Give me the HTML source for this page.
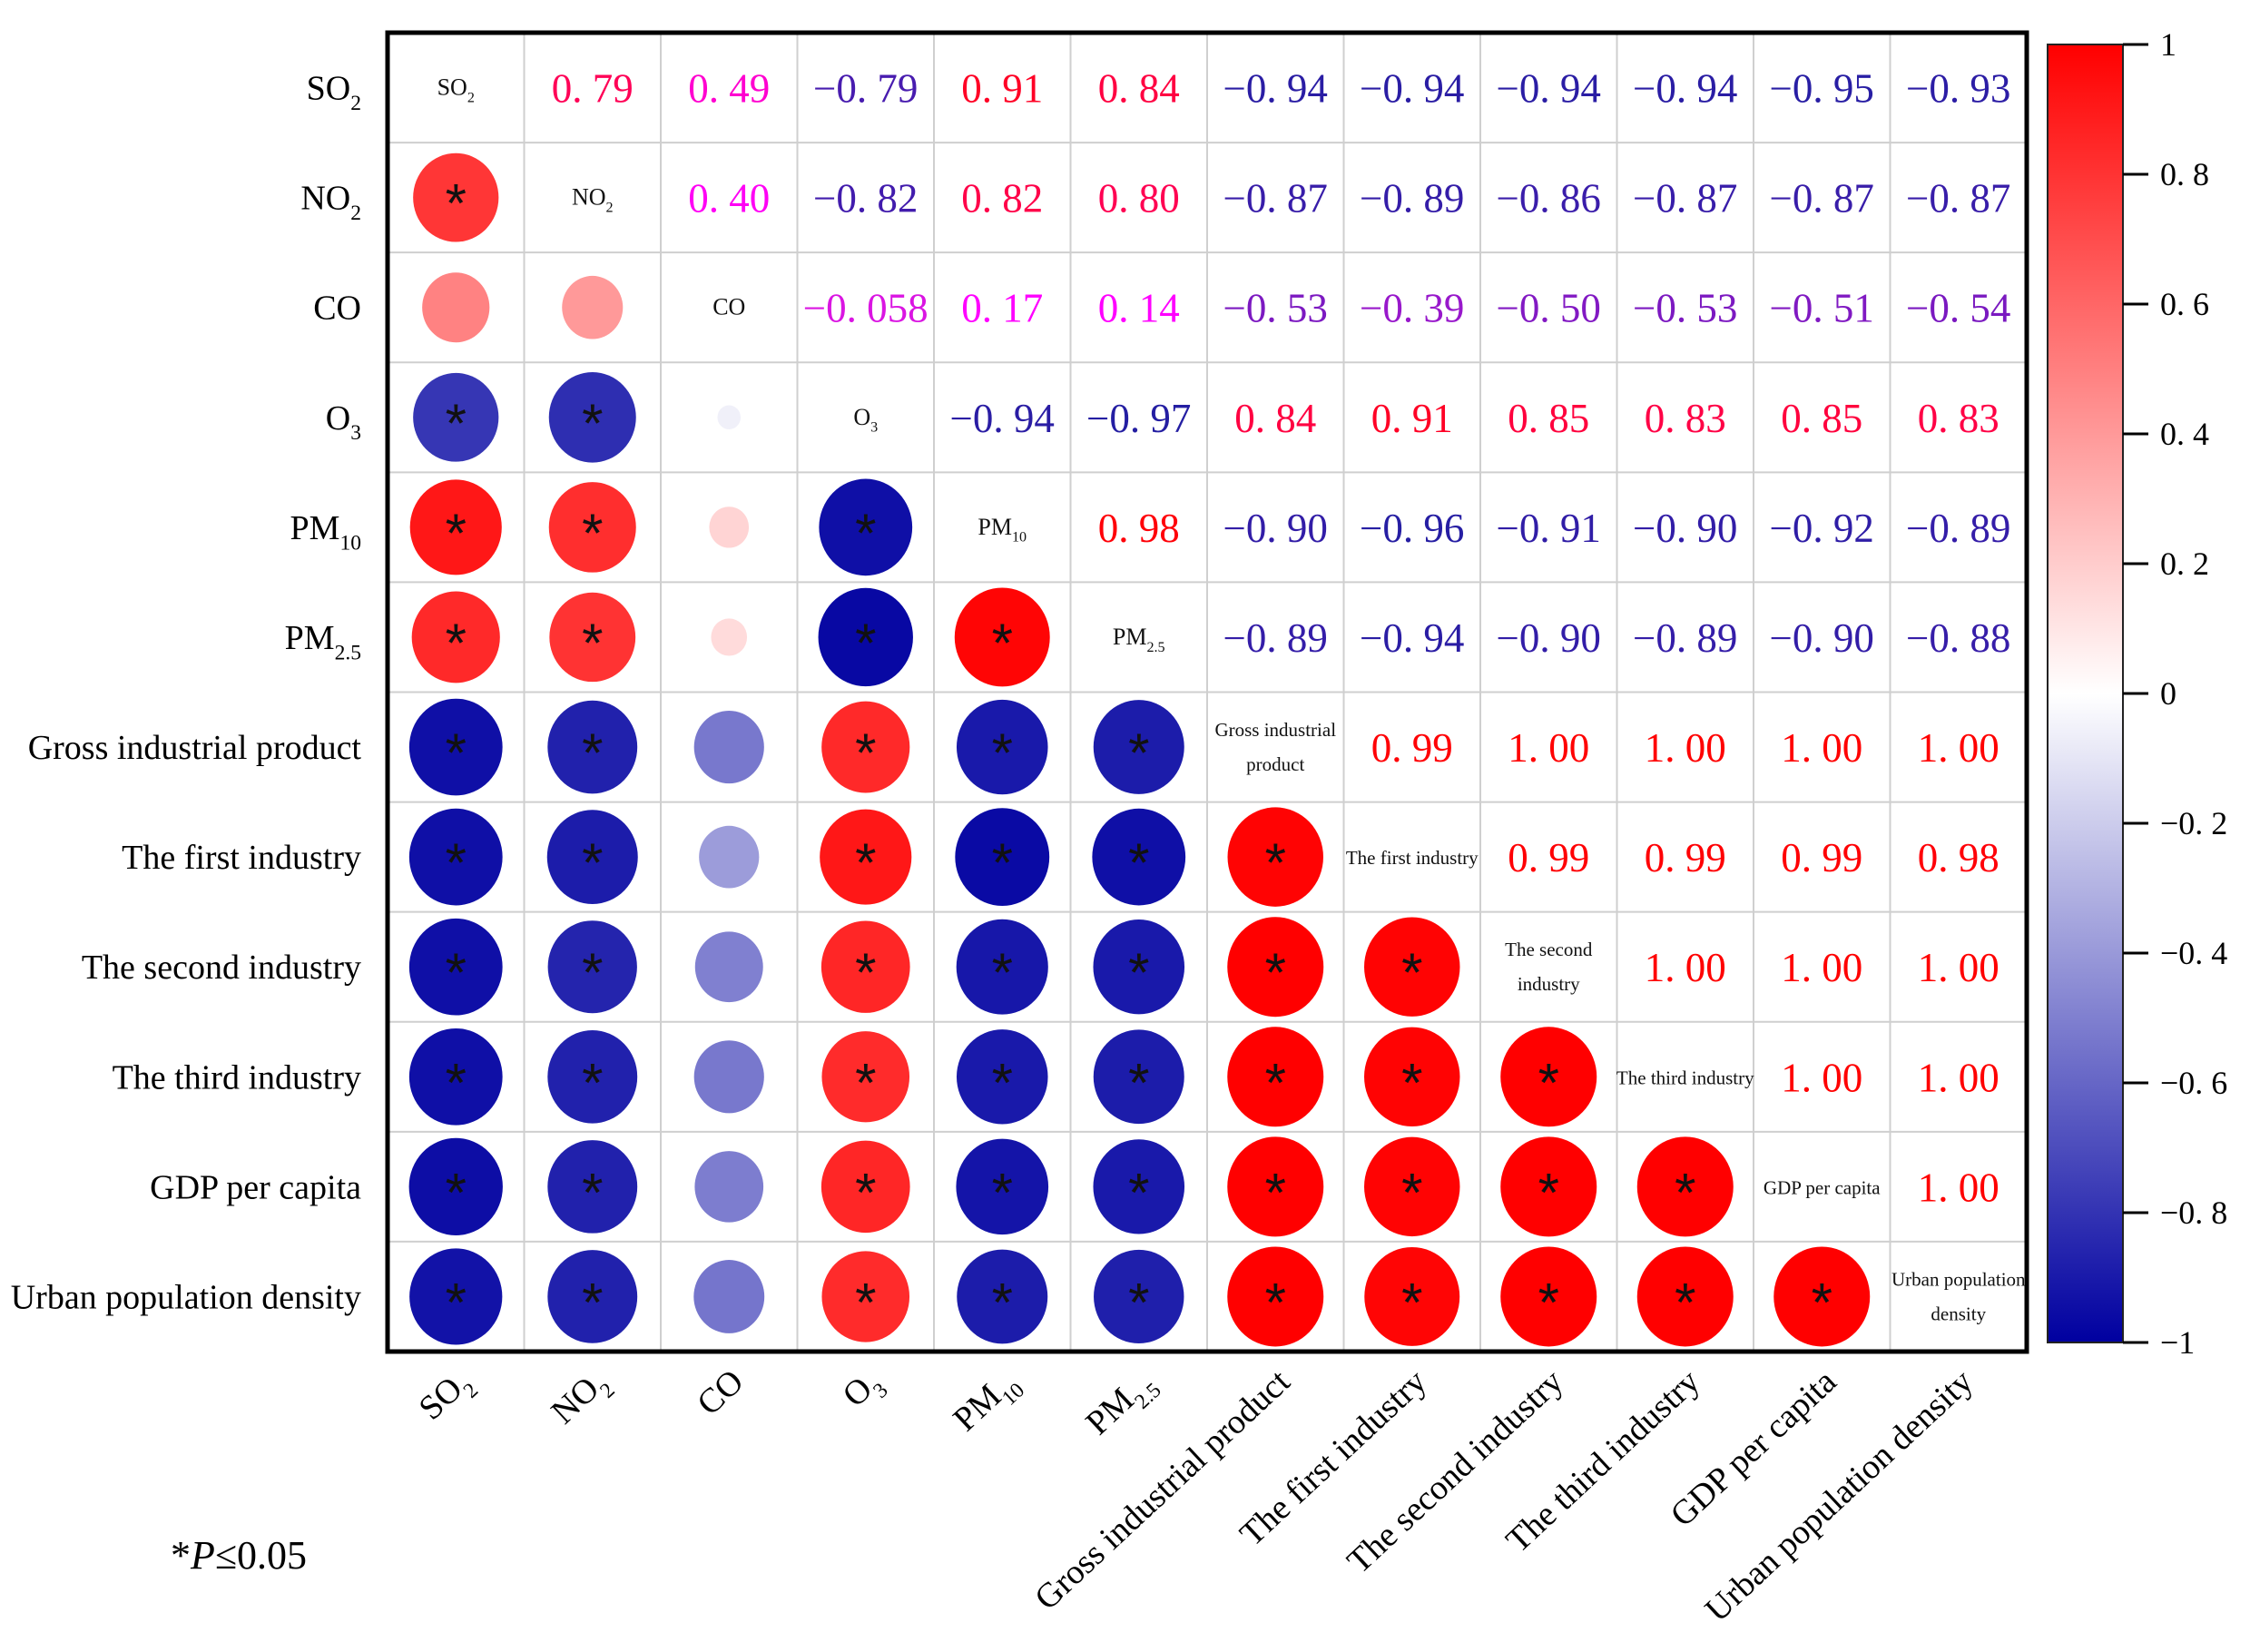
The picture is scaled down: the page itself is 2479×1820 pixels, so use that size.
<!DOCTYPE html>
<html><head><meta charset="utf-8"><style>
html,body{margin:0;padding:0;background:#fff;}
svg{display:block;}
</style></head><body>
<svg id="chart" width="2479" height="1820" viewBox="0 0 2479 1820" xmlns="http://www.w3.org/2000/svg"></svg>
<script>
const categories = ["SO2","NO2","CO","O3","PM10","PM2.5","Gross industrial product","The first industry","The second industry","The third industry","GDP per capita","Urban population density"];
const upperRows = [
 [0.79,0.49,-0.79,0.91,0.84,-0.94,-0.94,-0.94,-0.94,-0.95,-0.93],
 [0.40,-0.82,0.82,0.80,-0.87,-0.89,-0.86,-0.87,-0.87,-0.87],
 [-0.058,0.17,0.14,-0.53,-0.39,-0.50,-0.53,-0.51,-0.54],
 [-0.94,-0.97,0.84,0.91,0.85,0.83,0.85,0.83],
 [0.98,-0.90,-0.96,-0.91,-0.90,-0.92,-0.89],
 [-0.89,-0.94,-0.90,-0.89,-0.90,-0.88],
 [0.99,1.00,1.00,1.00,1.00],
 [0.99,0.99,0.99,0.98],
 [1.00,1.00,1.00],
 [1.00,1.00],
 [1.00]
];
const colorbarTicks = [1,0.8,0.6,0.4,0.2,0,-0.2,-0.4,-0.6,-0.8,-1];
const sigThreshold = 0.55;

const NS="http://www.w3.org/2000/svg";
const svg=document.getElementById('chart');
function mk(tag,attrs,parent){const e=document.createElementNS(NS,tag);for(const k in attrs)e.setAttribute(k,attrs[k]);(parent||svg).appendChild(e);return e;}
const L=427,R=2233,T=36,B=1489,n=categories.length;
const cw=(R-L)/n,ch=(B-T)/n;
const xc=i=>L+cw*(i+0.5), yc=i=>T+ch*(i+0.5);
function fillColor(r){
  const t=Math.min(1,Math.abs(r));
  if(r>=0) return `rgb(255,${Math.round(255*(1-t))},${Math.round(255*(1-t))})`;
  return `rgb(${Math.round(255*(1-t))},${Math.round(255*(1-t))},${Math.round(160+95*(1-t))})`;
}
function textColor(r){
  if(r>=0){const t=Math.min(1,r);return `rgb(255,0,${Math.round(Math.min(255,255*(1-t)*1.6))})`;}
  const t=Math.min(1,-r);
  return `rgb(${Math.round(230*(1-t)+30*t)},${Math.round(20*(1-t)+30*t)},${Math.round(230*(1-t)+160*t)})`;
}
function fmt(r){const s=Math.abs(r)<0.1?Math.abs(r).toFixed(3):Math.abs(r).toFixed(2);return (r<0?"\u2212":"")+s.replace('.', '. ');}
function valueAt(i,j){const a=Math.min(i,j),b=Math.max(i,j);return upperRows[a][b-a-1];}

for(let k=1;k<n;k++){
  let l=mk('line',{x1:L+cw*k,y1:T,x2:L+cw*k,y2:B,stroke:'#cfcfcf','stroke-width':2});
  
  
  l=mk('line',{x1:L,y1:T+ch*k,x2:R,y2:T+ch*k,stroke:'#cfcfcf','stroke-width':2});
  
  
}
const labelHTML=c=>{
  if(c==="SO2")return ['SO','2'];if(c==="NO2")return ['NO','2'];if(c==="O3")return ['O','3'];
  if(c==="PM10")return ['PM','10'];if(c==="PM2.5")return ['PM','2.5'];return [c,''];
};
function addLabel(parent,c,size){
  const [a,s]=labelHTML(c);
  parent.textContent=a;
  if(s){const ts=mk('tspan',{'font-size':size*0.62,dy:size*0.3},parent);ts.textContent=s;}
}
for(let i=0;i<n;i++){
  for(let j=0;j<n;j++){
    if(i===j){
      const c=categories[i];
      const g=mk('g',{});
      
      
      const wrap={"Gross industrial product":["Gross industrial","product"],"The second industry":["The second","industry"],"Urban population density":["Urban population","density"]}[c];
      if(wrap){
        wrap.forEach((w,k)=>{const t=mk('text',{x:xc(i),y:yc(i)+(k===0?-12:26),'text-anchor':'middle','font-family':'Liberation Serif, serif','font-size':21,fill:'#111'},g);t.textContent=w;});
      } else {
        const t=mk('text',{x:xc(i),y:yc(i)+8,'text-anchor':'middle','font-family':'Liberation Serif, serif','font-size':c.length>6?21:26,fill:'#111'},g);
        addLabel(t,c,26);
      }
    } else if(j>i){
      const r=valueAt(i,j);
      const t=mk('text',{x:xc(j),y:yc(i)+16,'text-anchor':'middle','font-family':'Liberation Serif, serif','font-size':45,fill:textColor(r)});
      
      
      t.textContent=fmt(r);
    } else {
      const r=valueAt(i,j);
      const s=Math.sqrt(Math.abs(r));
      const e=mk('ellipse',{cx:xc(j),cy:yc(i),rx:53*s,ry:55*s,fill:fillColor(r)});
      
      
      if(Math.abs(r)>=sigThreshold){
        const a=mk('text',{x:xc(j),y:yc(i)+27,'text-anchor':'middle','font-family':'Liberation Sans, sans-serif','font-size':60,fill:'#111'});
        
        
        a.textContent='*';
      }
    }
  }
}
const fr=mk('rect',{x:L,y:T,width:R-L,height:B-T,fill:'none',stroke:'#000','stroke-width':5});


categories.forEach((c,i)=>{
  const t=mk('text',{x:398,y:yc(i)+13,'text-anchor':'end','font-family':'Liberation Serif, serif','font-size':38,fill:'#000'});
  
  
  addLabel(t,c,38);
  const x=xc(i)+18,y=1525;
  const u=mk('text',{x:x,y:y,'text-anchor':'end','font-family':'Liberation Serif, serif','font-size':38,fill:'#000',transform:`rotate(-43 ${x} ${y})`});
  
  
  addLabel(u,c,38);
});
const defs=mk('defs',{});
const grad=mk('linearGradient',{id:'cb',x1:0,y1:0,x2:0,y2:1},defs);
mk('stop',{offset:'0%','stop-color':fillColor(1)},grad);
mk('stop',{offset:'50%','stop-color':fillColor(0)},grad);
mk('stop',{offset:'100%','stop-color':fillColor(-1)},grad);
const cbT=49,cbB=1479,cbL=2256,cbR=2339;
const cy=v=>cbT+(1-v)/2*(cbB-cbT);
const cb=mk('rect',{x:cbL,y:cbT,width:cbR-cbL,height:cbB-cbT,fill:'url(#cb)',stroke:'#222','stroke-width':2});


colorbarTicks.forEach(v=>{
  const l=mk('line',{x1:cbR,y1:cy(v),x2:2367,y2:cy(v),stroke:'#000','stroke-width':3});
  
  
  const t=mk('text',{x:2380,y:cy(v)+12,'font-family':'Liberation Serif, serif','font-size':36,fill:'#000'});
  
  
  t.textContent=v===0?'0':(v===1?'1':(v===-1?'\u22121':(v<0?'\u2212':'')+Math.abs(v).toFixed(1).replace('.', '. ')));
});
const note=mk('text',{x:188,y:1728,'font-family':'Liberation Serif, serif','font-size':44,fill:'#000'});


note.textContent='*';
const pi=mk('tspan',{'font-style':'italic'},note);pi.textContent='P';
const rest=mk('tspan',{},note);rest.textContent='\u22640.05';
</script>
</body></html>
